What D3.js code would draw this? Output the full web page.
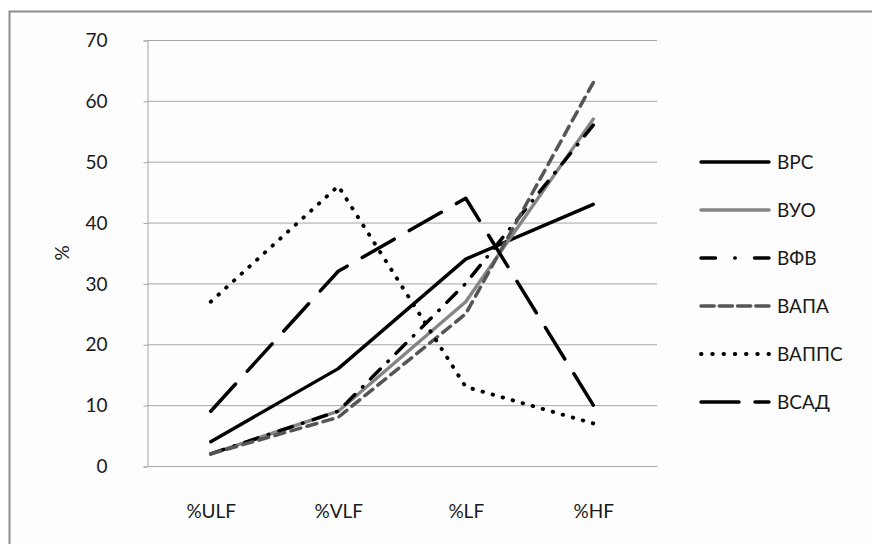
<!DOCTYPE html>
<html>
<head>
<meta charset="utf-8">
<script src="https://cdn.jsdelivr.net/npm/d3@7"></script>
<style>
html,body{margin:0;padding:0;background:#fff;}
svg{display:block;}
text{font-family:Lato,"Open Sans",sans-serif;fill:#1a1a1a;}
</style>
</head>
<body>
<svg id="chart" width="872" height="544"></svg>
<script>
const categories = ["%ULF", "%VLF", "%LF", "%HF"];
const seriesNames = ["ВРС", "ВУО", "ВФВ", "ВАПА", "ВАППС", "ВСАД"];
const vrs   = [4, 16, 34, 43];
const vuo   = [2, 9, 27, 57];
const vfv   = [2, 9, 30, 56];
const vapa  = [2, 8, 25, 63];
const vapps = [27, 46, 13, 7];
const vsad  = [9, 32, 44, 10];
const yTicks = [0, 10, 20, 30, 40, 50, 60, 70];

const seriesValues = [vrs, vuo, vfv, vapa, vapps, vsad];
const styles = [
  {color:"#000", dash:null, lgDash:null, w:3.4},
  {color:"#858585", dash:null, lgDash:null, w:3.4},
  {color:"#000", dash:[14,11,0.5,11], lgDash:[15,20,0.5,20], w:3.5},
  {color:"#555", dash:[10,6.5], lgDash:[13,5], w:3.5},
  {color:"#000", dash:[0.5,10], lgDash:[0.5,10.5], w:3.9},
  {color:"#000", dash:[36,17], lgDash:null, lgRaw:"38,16", w:3.5}
];

const FS = 19;
const svg = d3.select("#chart");
svg.append("rect").attr("x",9.5).attr("y",11.5).attr("width",900).attr("height",600)
  .attr("fill","#fdfdfd").attr("stroke","#8c8c8c").attr("stroke-width",2);

const pL=147, pR=657, pT=40, pB=466;
const x = d3.scaleBand().domain(categories).range([pL,pR]);
const y = d3.scaleLinear().domain([0,70]).range([pB,pT]);

svg.append("g").selectAll("line").data(yTicks.filter(d=>d>0)).join("line")
  .attr("x1",pL).attr("x2",pR).attr("y1",d=>y(d)+0.5).attr("y2",d=>y(d)+0.5)
  .attr("stroke","#a6a6a6").attr("stroke-width",1);

const yAxis = d3.axisLeft(y).tickValues(yTicks).tickSize(4).tickPadding(36).tickFormat(d3.format("d"));
const gy = svg.append("g").attr("transform",`translate(${pL+0.5},0.5)`).call(yAxis);
gy.select(".domain").attr("stroke","#a6a6a6");
gy.selectAll(".tick line").attr("stroke","#a6a6a6");
gy.selectAll("text").attr("font-size",FS).attr("fill","#1a1a1a").attr("font-family","Lato");

const xAxis = d3.axisBottom(x).tickSize(0).tickPadding(38);
const gx = svg.append("g").attr("transform",`translate(0.5,${pB+0.5})`).call(xAxis);
gx.select(".domain").attr("stroke","#a6a6a6").attr("d",`M${pL},0H${pR}`);
gx.selectAll("text").attr("font-size",FS).attr("fill","#1a1a1a").attr("font-family","Lato");

svg.append("text").attr("transform",`translate(69,253) rotate(-90)`)
  .attr("text-anchor","middle").attr("font-size",FS).text("%");

// fit a dash pattern so the path starts and ends on a dash
function fitDash(dash, L){
  if(!dash) return null;
  const P = d3.sum(dash), d = dash[0];
  const n = Math.max(1, Math.round((L - d) / P));
  const k = L / (n * P + d);
  return dash.map(v => v * k).join(",");
}

const line = d3.line().x((d,i)=>x(categories[i])+x.bandwidth()/2).y(d=>y(d));
seriesValues.forEach((vals,k)=>{
  const s=styles[k];
  const p = svg.append("path").datum(vals).attr("d",line).attr("fill","none")
    .attr("stroke",s.color).attr("stroke-width",s.w).attr("stroke-linecap","round")
    .attr("stroke-linejoin","round");
  if(s.dash) p.attr("stroke-dasharray", fitDash(s.dash, p.node().getTotalLength()));
});

const lg = svg.append("g");
seriesNames.forEach((name,k)=>{
  const s=styles[k];
  const yy = 162 + k*48;
  lg.append("line").attr("x1",701).attr("x2",769).attr("y1",yy).attr("y2",yy)
    .attr("stroke",s.color).attr("stroke-width",s.w).attr("stroke-linecap","round")
    .attr("stroke-dasharray",s.lgRaw ? s.lgRaw : (s.lgDash ? fitDash(s.lgDash, 68) : null));
  lg.append("text").attr("x",777).attr("y",yy+7).attr("font-size",FS).text(name);
});
</script>
</body>
</html>
